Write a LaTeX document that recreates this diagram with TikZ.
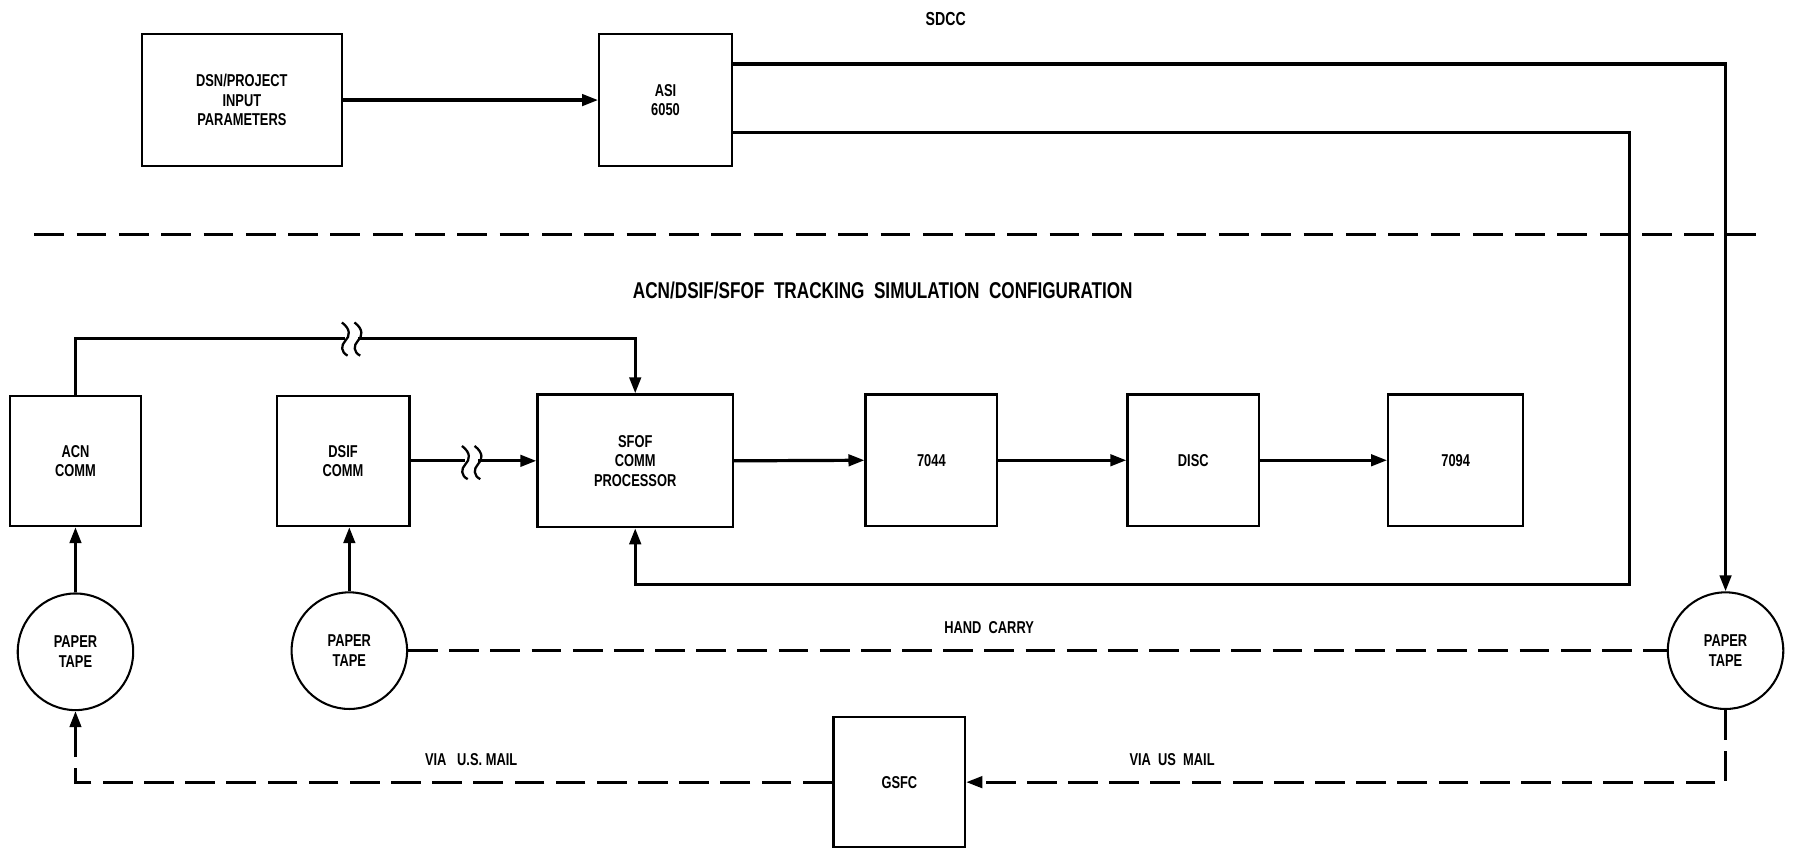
\documentclass[tikz,border=0pt]{standalone}
\usepackage{fontspec}
\setmainfont{Liberation Sans}[FakeStretch=0.75]
\usetikzlibrary{arrows.meta,shapes.geometric,calc}
\newcommand\lblfont{\fontsize{15}{17}\selectfont\bfseries}
\begin{document}
\begin{tikzpicture}[x=1pt,y=-1pt,
  box/.style={draw, line width=2pt, inner sep=0pt, align=center, font=\lblfont},
  tape/.style={draw, ellipse, line width=1.8pt, inner sep=0pt, align=center, font=\lblfont, minimum width=101pt, minimum height=102pt},
  conn/.style={line width=2.8pt, line join=miter},
  arr/.style={-{Triangle[length=14pt,width=10pt]}},
  dashline/.style={line width=2.6pt, dash pattern=on 26pt off 10pt},
  lbl/.style={font=\lblfont, inner sep=1pt},
  brk/.style={line width=2pt}
]
\useasboundingbox (0,0) rectangle (1568,742);

% nodes
\node[box, minimum width=175pt, minimum height=115pt] (dsn) at (211.5,87.5) {DSN/PROJECT\\INPUT\\PARAMETERS};
\node[box, minimum width=116pt, minimum height=115pt] (asi) at (582,87.5) {ASI\\6050};
\node[box, minimum width=115pt, minimum height=114pt] (acn) at (66,403) {ACN\\COMM};
\node[box, minimum width=116pt, minimum height=114pt] (dsif) at (300,403) {DSIF\\COMM};
\node[box, minimum width=171pt, minimum height=116pt] (sfof) at (555.5,403) {SFOF\\COMM\\PROCESSOR};
\node[box, minimum width=115pt, minimum height=115pt] (c7044) at (814.5,402.5) {7044};
\node[box, minimum width=115pt, minimum height=115pt] (disc) at (1043.5,402.5) {DISC};
\node[box, minimum width=118pt, minimum height=115pt] (c7094) at (1273,402.5) {7094};
\node[box, minimum width=115pt, minimum height=114pt] (gsfc) at (786.5,684) {GSFC};
\node[tape] (tape1) at (66,570) {PAPER\\TAPE};
\node[tape] (tape2) at (305.5,569) {PAPER\\TAPE};
\node[tape] (tape3) at (1509,569) {PAPER\\TAPE};

% texts
\node[font=\fontsize{16.5}{18}\selectfont\bfseries] (sdcc) at (827,17) {SDCC};
\node[font=\fontsize{20}{22}\selectfont\bfseries] (title) at (772,254) {ACN/DSIF/SFOF\ \ TRACKING\ \ SIMULATION\ \ CONFIGURATION};
\node[lbl] (hand) at (865,549) {HAND\ \ CARRY};
\node[lbl] (mail1) at (412,664) {VIA\ \ \ U.S.\ MAIL};
\node[lbl] (mail2) at (1025,664) {VIA\ \ US\ \ MAIL};

% separator
\coordinate (sepL) at (30,205);
\coordinate (sepR) at (1540,205);
\draw[line width=2pt, dash pattern=on 26pt off 11pt] (sepL) -- (sepR);

% connectors
\draw[conn, arr] (dsn.east) -- (dsn.east -| asi.west);
\draw[conn, arr] ($(asi.north east)+(0,27)$) -| (tape3.north);
\coordinate (ret) at (1425,511);
\draw[conn, arr] ($(asi.south east)+(0,-30)$) -| (ret) -| (sfof.south);
\coordinate (acntop) at (307,296);
\draw[conn, arr] (acn.north) |- (acntop) -| (sfof.north);
\draw[conn, arr] (dsif.east) -- (sfof.west);
\draw[conn, arr] (sfof.east) -- (c7044.west);
\draw[conn, arr] (c7044.east) -- (disc.west);
\draw[conn, arr] (disc.east) -- (c7094.west);
\draw[conn, arr] (tape1.north) -- (tape1.north |- acn.south);
\draw[conn, arr] (tape2.north) -- (tape2.north |- dsif.south);
\draw[dashline] (tape2.east) -- (tape3.west);
\draw[dashline, arr] (tape3.south) |- (gsfc.east);
\draw[dashline, arr] (gsfc.west) -| (tape1.south);

% break marks
\coordinate (b1) at (308,296);
\coordinate (b2) at (413,404);
\foreach \b in {b1,b2}{
  \fill[white] ($(\b)+(-6,-3)$) rectangle ($(\b)+(5,3)$);
  \foreach \d in {-6,5}{
    \draw[brk] ($(\b)+(\d-3,-14)$) .. controls ($(\b)+(\d+5,-8)$) and ($(\b)+(\d+4,-2)$) .. ($(\b)+(\d,2)$)
      .. controls ($(\b)+(\d-4,6)$) and ($(\b)+(\d-4,12)$) .. ($(\b)+(\d+2,15)$);
  }
}
\end{tikzpicture}
\end{document}
